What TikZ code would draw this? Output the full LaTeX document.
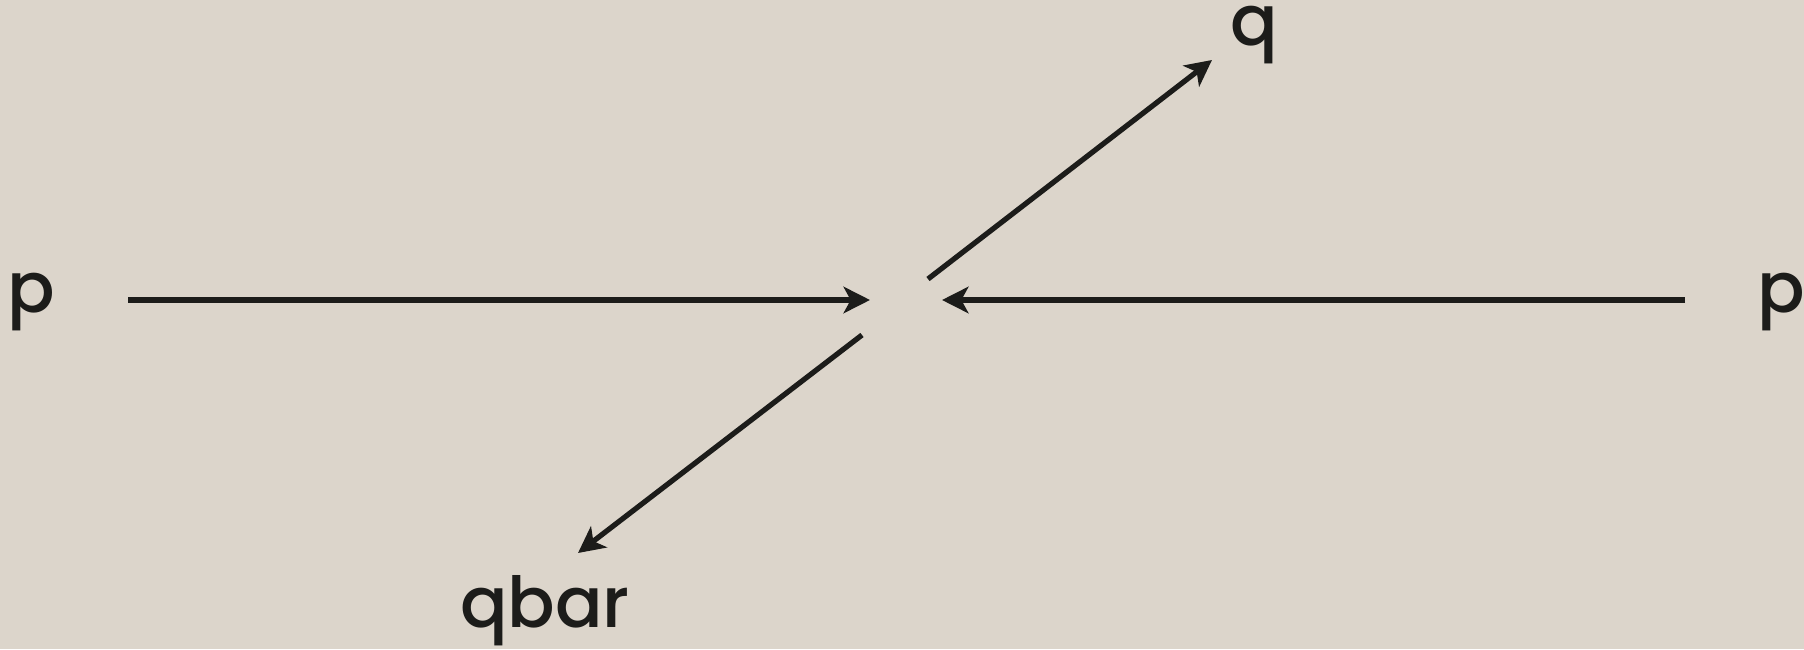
\documentclass[tikz,border=0pt]{standalone}
\usepackage{fontspec}
\setmainfont{Poppins}[BoldFont={Poppins Medium}]
\usepackage{tikz}
\usetikzlibrary{arrows.meta}
\definecolor{ppPaper}{HTML}{DCD5CB}
\definecolor{ppInk}{HTML}{1C1C1A}

\begin{document}
\begin{tikzpicture}[
    lbl/.style={anchor=base, font=\fontsize{20}{23}\selectfont\bfseries, text=ppInk, inner sep=0pt},
    mom/.style={-{Stealth[length=7.5pt, width=7.5pt, inset=2pt]}, line width=1.5pt, ppInk}
  ]
  \fill[ppPaper] (0,0) rectangle (18.04,6.49);
  \useasboundingbox (0,0) rectangle (18.04,6.49);

  \node[lbl] (pleft)  at (0.31,3.37)  {p};
  \node[lbl] (pright) at (17.81,3.37) {p};
  \node[lbl] (qout)   at (12.54,6.03) {q};
  \node[lbl] (qbout)  at (5.45,0.22)  {qbar};

  \coordinate (inL)  at (1.28,3.49);
  \coordinate (hitL) at (8.70,3.49);
  \coordinate (inR)  at (16.85,3.49);
  \coordinate (hitR) at (9.42,3.49);
  \coordinate (qs)   at (9.28,3.70);
  \coordinate (qe)   at (12.12,5.89);
  \coordinate (qbs)  at (8.62,3.14);
  \coordinate (qbe)  at (5.78,0.96);

  \draw[mom] (inL) -- (hitL);
  \draw[mom] (inR) -- (hitR);
  \draw[mom] (qs) -- (qe);
  \draw[mom] (qbs) -- (qbe);
\end{tikzpicture}
\end{document}
